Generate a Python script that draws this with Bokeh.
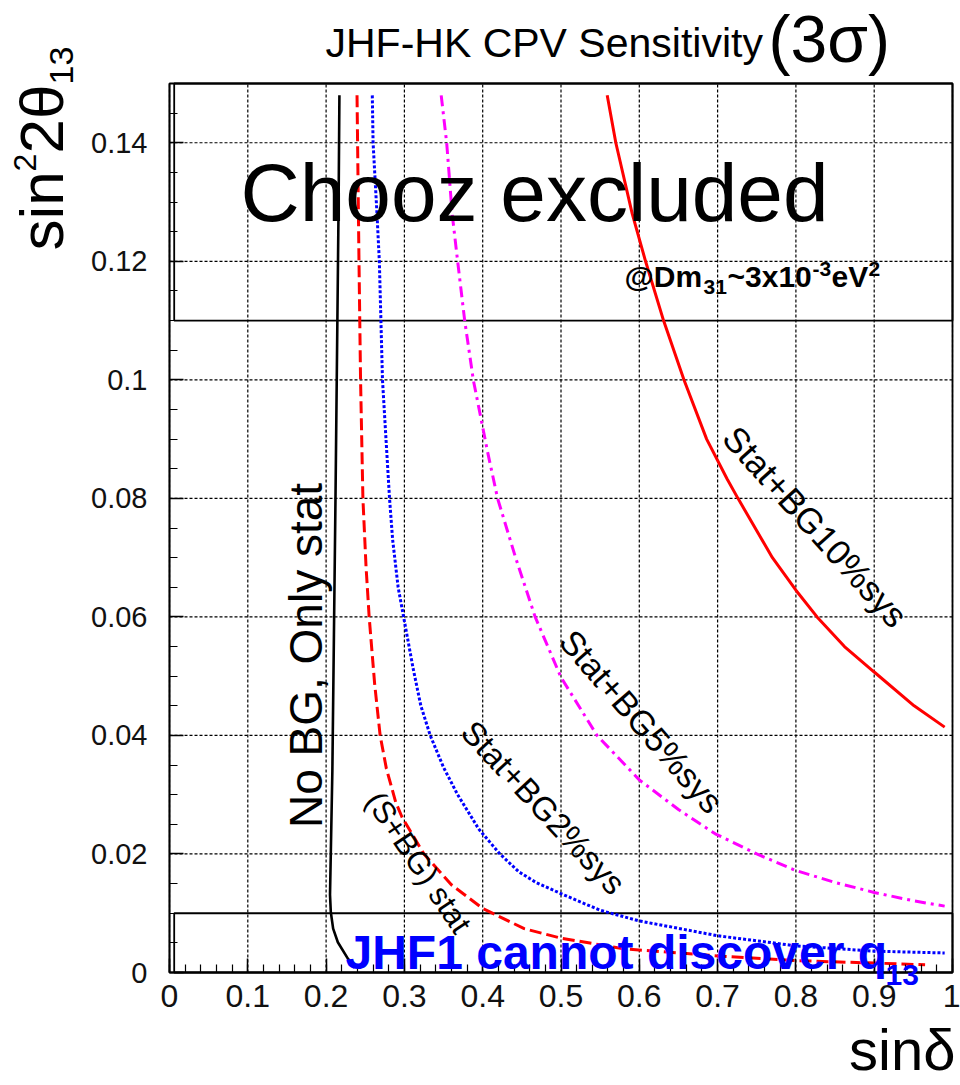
from bokeh.plotting import figure
from bokeh.models import Range1d, FixedTicker, CustomJSTickFormatter, Label, LinearAxis
from bokeh.embed import file_html
from bokeh.resources import INLINE

# ---------------- data ----------------
x_ticks = [0, 0.1, 0.2, 0.3, 0.4, 0.5, 0.6, 0.7, 0.8, 0.9, 1.0]
y_ticks = [0, 0.02, 0.04, 0.06, 0.08, 0.10, 0.12, 0.14]
x_minor = [round(i * 0.02, 4) for i in range(51)]
y_minor = [round(i * 0.005, 4) for i in range(31)]

chooz_limit = 0.11      # Chooz excluded region starts here
jhf1_limit = 0.01       # JHF1 cannot discover below this

# No BG, Only stat (black solid)
nobg_y = [0.148, 0.13, 0.105, 0.08, 0.057, 0.034, 0.0131, 0.0102, 0.0074, 0.0051, 0.0023, 0.0008]
nobg_x = [0.217, 0.216, 0.214, 0.212, 0.210, 0.208, 0.205, 0.206, 0.209, 0.215, 0.228, 0.236]

# (S+BG) stat (red dashed)
sbg_y = [0.148, 0.12, 0.10, 0.08, 0.0685, 0.06, 0.0487, 0.04, 0.0344, 0.0287, 0.0262, 0.02,
         0.0148, 0.0108, 0.0074, 0.0058, 0.0040, 0.0028, 0.0020, 0.0016, 0.0013]
sbg_x = [0.2395, 0.242, 0.244, 0.247, 0.251, 0.255, 0.262, 0.269, 0.277, 0.289, 0.297, 0.325,
         0.36, 0.40, 0.453, 0.50, 0.58, 0.70, 0.80, 0.90, 0.965]

# Stat+BG2%sys (blue dotted)
bg2_y = [0.148, 0.14, 0.128, 0.12, 0.11, 0.10, 0.08, 0.073, 0.065, 0.06, 0.0514, 0.045, 0.04,
         0.0346, 0.030, 0.0242, 0.02, 0.017, 0.0152, 0.0133, 0.0105, 0.0087, 0.0062, 0.0045,
         0.0036, 0.0033]
bg2_x = [0.259, 0.260, 0.265, 0.268, 0.270, 0.272, 0.281, 0.285, 0.292, 0.299, 0.311, 0.321, 0.333,
         0.350, 0.368, 0.395, 0.422, 0.446, 0.468, 0.50, 0.55, 0.60, 0.70, 0.80,
         0.90, 0.99]

# Stat+BG5%sys (magenta dash-dot)
bg5_y = [0.148, 0.14, 0.128, 0.12, 0.11, 0.10, 0.088, 0.08, 0.070, 0.06, 0.0498, 0.04, 0.0325,
         0.0275, 0.0234, 0.0200, 0.0172, 0.0152, 0.0135, 0.0121, 0.0112]
bg5_x = [0.347, 0.354, 0.361, 0.368, 0.377, 0.388, 0.406, 0.419, 0.442, 0.467, 0.50, 0.546, 0.60,
         0.65, 0.697, 0.75, 0.80, 0.85, 0.90, 0.95, 0.99]

# Stat+BG10%sys (red solid)
bg10_y = [0.148, 0.14, 0.128, 0.12, 0.11, 0.10, 0.09, 0.0833, 0.08, 0.07, 0.0645, 0.06, 0.055,
          0.0507, 0.045, 0.0414]
bg10_x = [0.559, 0.570, 0.591, 0.608, 0.631, 0.657, 0.686, 0.712, 0.726, 0.770, 0.80, 0.827, 0.862,
          0.90, 0.951, 0.99]

# ---------------- layout ----------------
W, H = 960, 1084
X0, X1, Y0, Y1 = 0.0, 1.0, 0.0, 0.15
# picture pixels of the plotting box
PL, PR, PT, PB = 169, 952, 83, 972
sx = (X1 - X0) / (PR - PL)
sy = (Y1 - Y0) / (PB - PT)


def dx(px):
    return X0 + (px - PL) * sx


def dy(py):
    return Y0 + (PB - py) * sy


p = figure(width=W, height=H,
           x_range=Range1d(dx(0), dx(W)), y_range=Range1d(dy(H), dy(0)),
           x_axis_type=None, y_axis_type=None,
           output_backend="svg", toolbar_location=None,
           min_border_left=0, min_border_right=0, min_border_top=0, min_border_bottom=0)
p.background_fill_color = "white"
p.border_fill_color = "white"
p.outline_line_color = None

fmt = CustomJSTickFormatter(code="""
var s = tick.toFixed(2);
s = s.replace(/0+$/, '');
s = s.replace(/\\.$/, '');
return s;
""")

xaxis = LinearAxis(fixed_location=Y0, bounds=(X0, X1),
                   ticker=FixedTicker(ticks=x_ticks, minor_ticks=x_minor), formatter=fmt)
yaxis = LinearAxis(fixed_location=X0, bounds=(Y0, Y1),
                   ticker=FixedTicker(ticks=y_ticks, minor_ticks=y_minor), formatter=fmt)
for ax in (xaxis, yaxis):
    ax.axis_line_color = "black"
    ax.axis_line_width = 1.5
    ax.major_tick_in = 14
    ax.major_tick_out = 0
    ax.minor_tick_in = 8
    ax.minor_tick_out = 0
    ax.major_tick_line_color = "black"
    ax.minor_tick_line_color = "black"
    ax.major_tick_line_width = 1.5
    ax.minor_tick_line_width = 1.2
    ax.major_label_text_color = "#111111"
    ax.major_label_text_font = "Liberation Sans"
yaxis.major_label_text_font_size = "29px"
yaxis.major_label_standoff = 22
xaxis.major_label_text_font_size = "32px"
xaxis.major_label_standoff = 12
p.add_layout(xaxis, "below")
p.add_layout(yaxis, "left")

# grid lines at the major ticks (dotted)
p.segment(x0=x_ticks, y0=[Y0] * len(x_ticks), x1=x_ticks, y1=[Y1] * len(x_ticks),
          line_color="black", line_dash="3 2", line_width=1.2)
p.segment(x0=[X0] * len(y_ticks), y0=y_ticks, x1=[X1] * len(y_ticks), y1=y_ticks,
          line_color="black", line_dash="3 2", line_width=1.2)

# frame and region boxes
p.quad(left=[X0], right=[X1], bottom=[Y0], top=[Y1],
       fill_alpha=0, line_color="black", line_width=1.8)
p.quad(left=[0.006], right=[X1], bottom=[chooz_limit], top=[Y1],
       fill_alpha=0, line_color="black", line_width=1.8)
p.quad(left=[0.006], right=[X1], bottom=[Y0], top=[jhf1_limit],
       fill_alpha=0, line_color="black", line_width=1.8)

# curves
p.line(nobg_x, nobg_y, line_color="black", line_width=2.6)
p.line(sbg_x, sbg_y, line_color="#ff0000", line_width=3, line_dash="12 5")
p.line(bg2_x, bg2_y, line_color="#0000ff", line_width=3, line_dash="3 2")
p.line(bg5_x, bg5_y, line_color="#ff00ff", line_width=3, line_dash="11 5 3 5")
p.line(bg10_x, bg10_y, line_color="#ff0000", line_width=3)

K = 0.37   # correction: the svg "alphabetic" anchor sits this fraction of the size too low


def lab(px, py, text, size, font="Liberation Sans", style="normal", color="black",
        align="left", baseline="alphabetic", angle=0):
    if baseline == "alphabetic":
        if angle == 90:
            px -= K * size
        else:
            py -= K * size
    p.add_layout(Label(x=dx(px), y=dy(py), text=text, text_font=font,
                       text_font_size=f"{size}px", text_font_style=style, text_color=color,
                       text_align=align, text_baseline=baseline,
                       angle=angle, angle_units="deg"))


# title
lab(325, 58, "JHF-HK CPV Sensitivity", 41)
lab(768, 63, "(3\u03c3)", 66)

# big region texts
lab(240, 222, "Chooz excluded", 82)
lab(624, 287, "@Dm", 30, style="bold")
lab(703, 294, "31", 21, style="bold")
lab(727, 287, "~3x10", 30, style="bold")
lab(812, 276, "-3", 21, style="bold")
lab(831, 287, "eV", 30, style="bold")
lab(868, 276, "2", 21, style="bold")

lab(345, 970, "JHF1 cannot discover q", 48, style="bold", color="#0000ff")
lab(885, 986, "13", 30, style="bold", color="#0000ff")

# curve labels
lab(305, 655, "No BG, Only stat", 46, align="center", baseline="middle", angle=90)
lab(418, 862, "(S+BG) stat", 31, align="center", baseline="middle", angle=-56)
lab(543, 807, "Stat+BG2%sys", 33, align="center", baseline="middle", angle=-47)
lab(641, 721, "Stat+BG5%sys", 34, align="center", baseline="middle", angle=-49)
lab(815, 526, "Stat+BG10%sys", 35, align="center", baseline="middle", angle=-48)

# axis titles
lab(64, 250, "sin", 62, angle=90)
lab(36, 171, "2", 32, angle=90)
lab(64, 153, "2\u03b8", 62, angle=90)
lab(74, 84, "13", 34, angle=90)

lab(955, 1070, "sin\u03b4", 58, align="right")

open("out.html", "w").write(file_html(p, INLINE))
